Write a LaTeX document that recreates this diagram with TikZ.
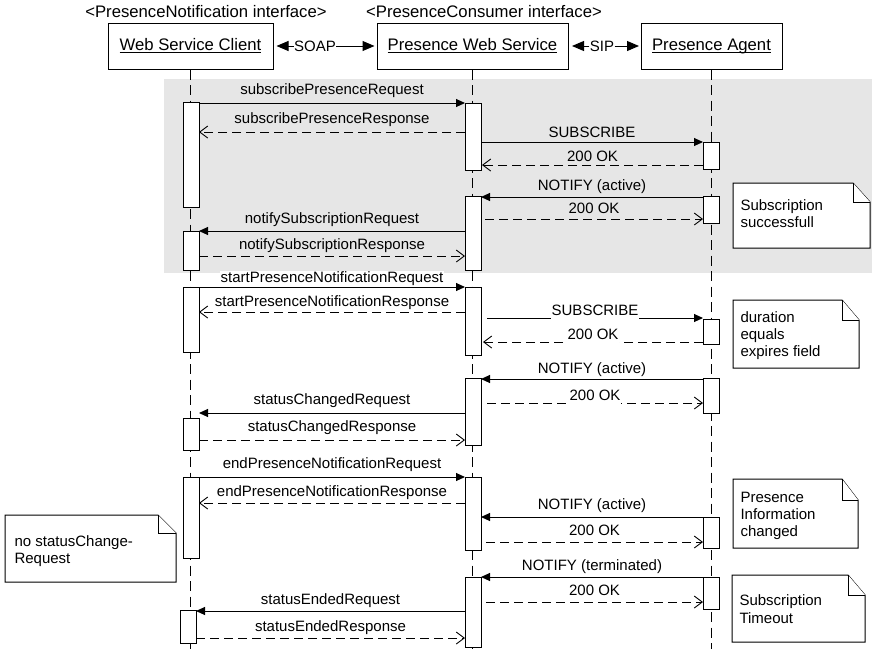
\documentclass[tikz,border=0pt]{standalone}
\usepackage{fontspec}
\setmainfont{Liberation Sans}
\usetikzlibrary{arrows.meta,calc}

\definecolor{bandgray}{RGB}{230,230,230}

\newcommand{\hdrfont}{\fontsize{16.7}{20}\selectfont}
\newcommand{\lblfont}{\fontsize{15}{17}\selectfont}
% underline at a fixed depth below the baseline (descenders cross it)
\newcommand{\ulined}[1]{\setbox0\hbox{#1}\rlap{\vrule height -1.6pt depth 2.6pt width \wd0}\box0}
% activation bar: name, centre x, top y, bottom y
\newcommand{\actbar}[4]{\node[actbar, minimum height={(#4-#3)*1pt}] (#1) at (#2,{(#3+#4)/2}) {};}
% note with folded corner: x1, y1, x2, y2, fold width, fold height
\newcommand{\foldnote}[6]{%
  \filldraw[notebox] (#1,#2) -- (#3-#5,#2) -- (#3,#2+#6) -- (#3,#4) -- (#1,#4) -- cycle;
  \draw[notebox] (#3-#5,#2) -- (#3-#5,#2+#6) -- (#3,#2+#6);}

\begin{document}
\begin{tikzpicture}[x=1pt, y=-1pt, line width=1pt,
  hdr/.style={draw, fill=white, minimum height=46pt, inner sep=0pt, font=\hdrfont,
              text height=12pt, text depth=4pt},
  title/.style={font=\hdrfont, anchor=base, inner sep=0pt},
  proto/.style={font=\lblfont, inner sep=0pt},
  hdrtip/.style={-{Triangle[length=12pt,width=10pt]}},
  life/.style={dash pattern=on 10pt off 5.5pt},
  actbar/.style={draw, fill=white, minimum width=16pt, inner sep=0pt, outer sep=0pt},
  req/.style={-{Triangle[length=9pt,width=8pt]}},
  resp/.style={dash pattern=on 9pt off 5pt, -{Straight Barb[length=8pt,width=12pt,line width=0.9pt]}},
  lbl/.style={font=\lblfont, anchor=base, inner xsep=1pt, inner ysep=0pt,
              text height=11.5pt, text depth=3.5pt},
  lblw/.style={lbl, fill=white},
  notebox/.style={draw, fill=white, line width=1pt},
  notetext/.style={font=\lblfont, anchor=base west, inner sep=0pt}]

\useasboundingbox (0,0) rectangle (872,649);

% shaded subscription phase
\fill[bandgray] (164,79) rectangle (872,273);

% participants
\node[title] (t1) at (206,17) {<PresenceNotification interface>};
\node[title] (t2) at (484,17) {<PresenceConsumer interface>};
\node[hdr, minimum width=165pt] (wsc) at (190.5,46) {\ulined{Web Service Client}};
\node[hdr, minimum width=191pt] (pws) at (472.5,46) {\ulined{Presence Web Service}};
\node[hdr, minimum width=141pt] (pa)  at (711.5,46) {\ulined{Presence Agent}};

\node[proto] (soap) at (315,46) {SOAP};
\draw[hdrtip, shorten >=3pt] (soap.west) -- (wsc.east);
\draw[hdrtip, shorten >=2pt] (soap.east) -- (pws.west);
\node[proto] (sip) at (602,46) {SIP};
\draw[hdrtip, shorten >=3.5pt] (sip.west) -- (pws.east);
\draw[hdrtip, shorten >=1.5pt] (sip.east) -- (pa.west);

% lifelines
\coordinate (wscend) at (wsc.south |- 0,649);
\coordinate (pwsend) at (pws.south |- 0,649);
\coordinate (paend)  at (pa.south |- 0,649);
\draw[life] (wsc.south) -- (wscend);
\draw[life] (pws.south) -- (pwsend);
\draw[life] (pa.south) -- (paend);

% activation bars
\actbar{w1}{191}{102}{207}
\actbar{w2}{191}{231}{270}
\actbar{w3}{191}{287}{352}
\actbar{w4}{191}{418}{450}
\actbar{w5}{191}{477}{558}
\actbar{w6}{188}{610}{643}
\actbar{p1}{473}{103}{170}
\actbar{p2}{473}{196}{270}
\actbar{p3}{473}{287}{355}
\actbar{p4}{473}{378}{445}
\actbar{p5}{473}{477}{550}
\actbar{p6}{473}{577}{647}
\actbar{a1}{711}{142}{169}
\actbar{a2}{711}{196}{223}
\actbar{a3}{711}{319}{344}
\actbar{a4}{711}{378}{413}
\actbar{a5}{711}{517}{548}
\actbar{a6}{711}{577}{609}

% subscription
\draw[req]  (w1.east |- 0,103) -- node[lbl, yshift=8.7pt] {subscribePresenceRequest} (p1.west |- 0,103);
\draw[resp] (p1.west |- 0,132) -- node[lbl, yshift=9pt] {subscribePresenceResponse} (w1.east |- 0,132);
\draw[req]  (p1.east |- 0,142) -- node[lbl, yshift=5pt] {SUBSCRIBE} (a1.west |- 0,142);
\draw[resp] (a1.west |- 0,165) -- node[lbl, yshift=3.3pt] {200 OK} ($(p1.east |- 0,165)+(1,0)$);
\draw[req]  (a2.west |- 0,197) -- node[lbl, yshift=7pt] {NOTIFY (active)} (p2.east |- 0,197);
\draw[resp] ($(p2.east |- 0,219)+(4,0)$) -- node[lbl, yshift=5.3pt] {200 OK} (a2.west |- 0,219);
\draw[req]  (p2.west |- 0,231) -- node[lbl, yshift=7.7pt] {notifySubscriptionRequest} (w2.east |- 0,231);
\draw[resp] (w2.east |- 0,256) -- node[lbl, yshift=6.3pt] {notifySubscriptionResponse} (p2.west |- 0,256);

% start notification
\draw[req]  (w3.east |- 0,287) -- node[lblw, yshift=4.7pt] {startPresenceNotificationRequest} (p3.west |- 0,287);
\draw[resp] (p3.west |- 0,312) -- node[lblw, yshift=5.3pt] {startPresenceNotificationResponse} (w3.east |- 0,312);
\draw[req]  ($(p3.east |- 0,318)+(6,0)$) -- node[lblw, yshift=3pt] {SUBSCRIBE} (a3.west |- 0,318);
\draw[resp] (a3.west |- 0,342) -- node[lblw, yshift=3pt] {200 OK} ($(p3.east |- 0,342)+(2,0)$);
\draw[req]  (a4.west |- 0,379) -- node[lblw, yshift=5.7pt] {NOTIFY (active)} (p4.east |- 0,379);
\draw[resp] ($(p4.east |- 0,403)+(6,0)$) -- node[lblw, yshift=3pt] {200 OK} (a4.west |- 0,403);
\draw[req]  (p4.west |- 0,413) -- node[lblw, yshift=9pt] {statusChangedRequest} (w4.east |- 0,413);
\draw[resp] (w4.east |- 0,440) -- node[lblw, yshift=8.3pt] {statusChangedResponse} (p4.west |- 0,440);

% end notification
\draw[req]  (w5.east |- 0,477) -- node[lblw, yshift=8.7pt] {endPresenceNotificationRequest} (p5.west |- 0,477);
\draw[resp] (p5.west |- 0,503) -- node[lblw, yshift=7pt] {endPresenceNotificationResponse} (w5.east |- 0,503);
\draw[req]  (a5.west |- 0,517) -- node[lblw, yshift=7.7pt] {NOTIFY (active)} (p5.east |- 0,517);
\draw[resp] ($(p5.east |- 0,542)+(5,0)$) -- node[lblw, yshift=6.3pt] {200 OK} (a5.west |- 0,542);
\draw[req]  (a6.west |- 0,577) -- node[lblw, yshift=7pt] {NOTIFY (terminated)} (p6.east |- 0,577);
\draw[resp] ($(p6.east |- 0,602)+(5,0)$) -- node[lblw, yshift=6.3pt] {200 OK} (a6.west |- 0,602);
\draw[req]  (p6.west |- 0,611) -- node[lblw, yshift=7pt] {statusEndedRequest} (w6.east |- 0,611);
\draw[resp] (w6.east |- 0,638) -- node[lblw, yshift=6.3pt] {statusEndedResponse} (p6.west |- 0,638);

% notes
\foldnote{733}{183}{870}{248}{17}{19}
\node[notetext] (n1a) at (740,210) {Subscription};
\node[notetext] (n1b) at (740,227) {successfull};

\foldnote{733}{300}{859}{368}{17}{20}
\node[notetext] (n2a) at (740,322) {duration};
\node[notetext] (n2b) at (740,339) {equals};
\node[notetext] (n2c) at (740,356) {expires field};

\foldnote{733}{479}{858}{548}{16}{21}
\node[notetext] (n3a) at (740,502) {Presence};
\node[notetext] (n3b) at (740,519) {Information};
\node[notetext] (n3c) at (740,536) {changed};

\foldnote{732}{575}{865}{642}{17}{20}
\node[notetext] (n4a) at (739,605.5) {Subscription};
\node[notetext] (n4b) at (739,623) {Timeout};

\foldnote{5}{515}{176}{582}{18}{18}
\node[notetext] (n5a) at (14,546.5) {no statusChange-};
\node[notetext] (n5b) at (14,563.5) {Request};

\end{tikzpicture}
\end{document}
